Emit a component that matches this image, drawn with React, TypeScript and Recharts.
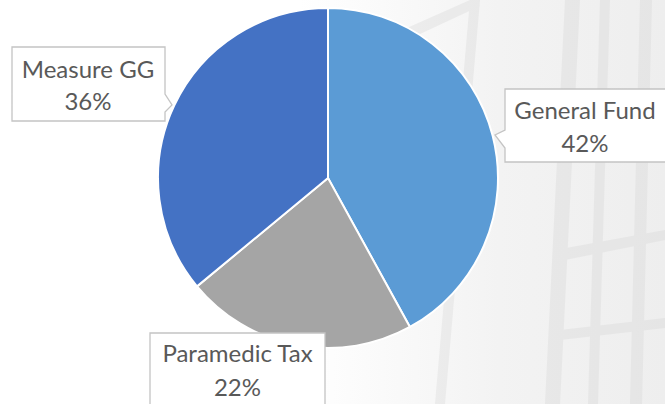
import React from 'react';
import { PieChart, Pie, Cell } from 'recharts';

const categories = ['General Fund', 'Paramedic Tax', 'Measure GG'];
const shares = [42, 22, 36];
const colors = ['#5B9BD5', '#A5A5A5', '#4472C4'];

const data = categories.map((name, i) => ({ name, value: shares[i] }));

const W = 665;
const H = 404;
const CX = 328;
const CY = 178;
const R = 170;
const FONT = 'Lato, "Open Sans", sans-serif';
const FS = 24;

type Box = { x: number; y: number; w: number; h: number };
const boxes: Record<string, Box> = {
  'General Fund': { x: 505, y: 89, w: 172, h: 73 },
  'Paramedic Tax': { x: 150, y: 333, w: 175, h: 80 },
  'Measure GG': { x: 12, y: 47, w: 153, h: 74 },
};
const textLines: Record<string, number[]> = {
  'General Fund': [119, 152],
  'Paramedic Tax': [362, 396],
  'Measure GG': [78, 110],
};
const textCenterX: Record<string, number> = {
  'General Fund': 585,
  'Paramedic Tax': 237.5,
  'Measure GG': 88,
};

const RAD = Math.PI / 180;

function calloutPath(b: Box, tx: number, ty: number) {
  const { x, y, w, h } = b;
  const r = x + w;
  const bt = y + h;
  if (tx > r) {
    const a = Math.max(y, ty - 11);
    const c = Math.min(bt, ty + 7);
    return `M${x},${y}H${r}V${a}L${tx},${ty}L${r},${c}V${bt}H${x}Z`;
  }
  if (tx < x) {
    const a = Math.max(y, ty - 5);
    const c = Math.min(bt, ty + 13);
    return `M${x},${y}H${r}V${bt}H${x}V${c}L${tx},${ty}L${x},${a}Z`;
  }
  return `M${x},${y}H${r}V${bt}H${x}Z`;
}

const renderLabel = (props: any) => {
  const { cx, cy, midAngle, outerRadius, name, value } = props;
  const b = boxes[name];
  if (!b) return null;
  const tr = outerRadius + 2;
  const tx = cx + tr * Math.cos(-midAngle * RAD);
  const ty = cy + tr * Math.sin(-midAngle * RAD);
  const lines = textLines[name];
  const mx = textCenterX[name];
  return (
    <g key={name}>
      <path
        d={calloutPath(b, Math.round(tx), Math.round(ty))}
        fill="#ffffff"
        stroke="#C4C4C4"
        strokeWidth={1.3}
      />
      <text x={mx} y={lines[0]} textAnchor="middle" fontFamily={FONT} fontSize={FS} fill="#595959">
        {name}
      </text>
      <text x={mx} y={lines[1]} textAnchor="middle" fontFamily={FONT} fontSize={FS} fill="#595959">
        {`${value}%`}
      </text>
    </g>
  );
};

export default function App() {
  return (
    <div style={{ position: 'fixed', left: 0, top: 0, width: W, height: H, background: '#ffffff', overflow: 'hidden' }}>
      <svg width={W} height={H} style={{ position: 'absolute', left: 0, top: 0 }}>
        <defs>
          <linearGradient id="bgfade" x1="0" y1="0" x2="1" y2="0">
            <stop offset="0" stopColor="#ffffff" />
            <stop offset="0.45" stopColor="#ffffff" />
            <stop offset="0.75" stopColor="#f3f3f3" />
            <stop offset="1" stopColor="#eeeeee" />
          </linearGradient>
        </defs>
        <rect x={0} y={0} width={W} height={H} fill="url(#bgfade)" />
        <g fill="#d6d6d6" opacity={0.35}>
          <polygon points="565,0 580,0 560,404 545,404" />
          <polygon points="600,0 610,0 598,404 588,404" />
          <polygon points="640,0 652,0 642,404 630,404" />
          <polygon points="470,0 480,0 445,404 435,404" />
          <polygon points="380,40 470,0 480,6 390,48" />
          <polygon points="555,250 665,230 665,240 555,262" />
          <polygon points="560,330 665,318 665,328 560,340" />
        </g>
      </svg>
      <div style={{ position: 'absolute', left: 0, top: 0 }}>
        <PieChart width={W} height={H} margin={{ top: 0, right: 0, bottom: 0, left: 0 }}>
          <Pie
            data={data}
            dataKey="value"
            nameKey="name"
            cx={CX}
            cy={CY}
            outerRadius={R}
            startAngle={90}
            endAngle={-270}
            stroke="#ffffff"
            strokeWidth={2}
            label={renderLabel}
            labelLine={false}
            isAnimationActive={false}
          >
            {data.map((d, i) => (
              <Cell key={d.name} fill={colors[i]} />
            ))}
          </Pie>
        </PieChart>
      </div>
    </div>
  );
}
